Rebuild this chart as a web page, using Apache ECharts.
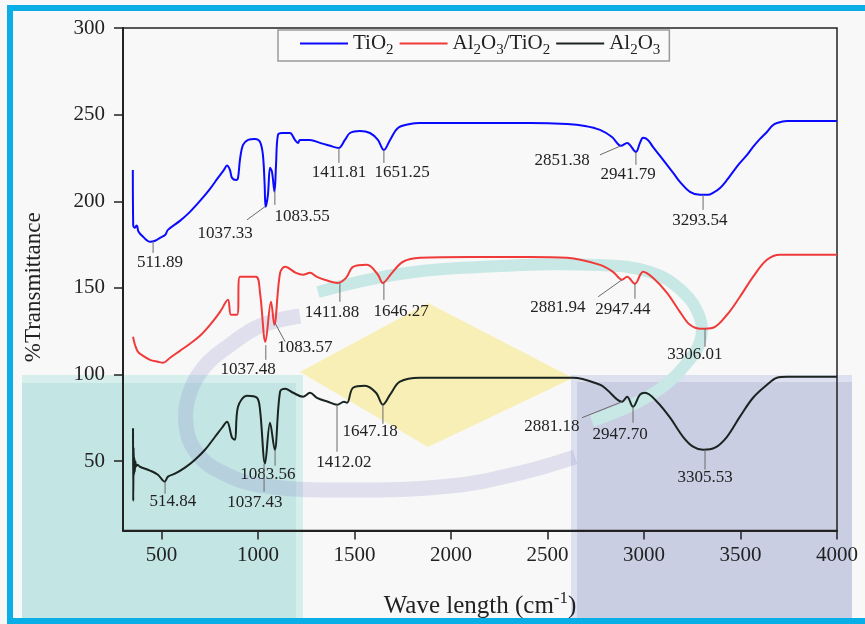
<!DOCTYPE html>
<html><head><meta charset="utf-8">
<script src="https://cdn.jsdelivr.net/npm/echarts/dist/echarts.min.js"></script>
<style>html,body{margin:0;padding:0;background:#f8f8f8}#c{width:865px;height:624px}</style>
</head><body><div id="c"></div><script>
const FONT = "'Liberation Serif','Times New Roman',serif";
const xTickValues = [500,1000,1500,2000,2500,3000,3500,4000];
const yTickValues = [50,100,150,200,250,300];
const seriesNames = ['TiO2','Al2O3/TiO2','Al2O3'];
const seriesColors = ['#0a0aff','#f03a3a','#1a2420'];

// [wavenumber, %T]
const tio2 = [[351,218],[353,186],[362,184.7],[370,186],[374,185.5],[380,182.6],[404,179.5],[440,176.6],[466,177.2],[492,178.9],[518,180.5],[533,183.5],[595,188.7],[647,193.9],[699,200.2],[751,207.2],[792,213.5],[823,218.1],[839,220.6],[854,218.1],[865,213.5],[886,212.3],[896,213.5],[906,223.9],[922,232.5],[948,235.4],[984,236],[1010,234.3],[1025,226.8],[1034,209.5],[1039,196.8],[1051,203.7],[1062,219.3],[1072,217],[1085,205.6],[1093,221],[1103,238.3],[1124,239.4],[1165,239.4],[1191,235.4],[1207,233.7],[1217,235.4],[1269,235.4],[1321,233.7],[1373,232],[1417,230.8],[1450,235.4],[1476,239.4],[1528,240.6],[1580,239.4],[1621,235.4],[1652,229.6],[1684,235.4],[1725,242.3],[1787,244.6],[1839,245.2],[2098,245.2],[2409,245.2],[2601,244.6],[2694,243.5],[2772,241.2],[2834,237.1],[2881,232],[2912,233.7],[2958,228.5],[2979,233.7],[2995,236.6],[3020,235.4],[3046,231.4],[3083,226.2],[3119,221],[3155,215.8],[3186,211.2],[3238,205.4],[3290,203.7],[3331,203.7],[3357,204.8],[3394,207.7],[3430,212.3],[3461,217],[3497,222.1],[3534,226.8],[3565,231.4],[3601,236],[3637,240],[3663,243.5],[3689,245.2],[3741,246.4],[4000,246.4]];

const al2o3TiO2 = [[352,121.8],[362,117.2],[378,113.1],[404,110.8],[440,108.5],[481,107.4],[507,106.8],[544,109.7],[595,113.7],[647,117.8],[699,122.4],[751,128.7],[803,136.2],[844,143.1],[860,134.5],[891,134.5],[906,156.4],[989,156.4],[1010,147.2],[1038,118.9],[1067,142],[1084,128.7],[1114,158.7],[1140,162.2],[1196,158.7],[1233,157.6],[1269,158.7],[1305,156.4],[1362,154.1],[1412,152.9],[1456,155.8],[1492,162.2],[1564,163.3],[1621,157.6],[1646,152.9],[1694,158.7],[1751,165.1],[1839,167.4],[2098,167.9],[2409,167.9],[2601,167.4],[2772,163.3],[2839,159.3],[2886,154.7],[2912,156.4],[2953,152.4],[2995,159.3],[3046,155.8],[3119,147.2],[3186,136.2],[3238,128.7],[3295,126.4],[3357,127],[3430,134.5],[3497,144.9],[3565,156.4],[3637,166.2],[3705,169.1],[4000,169.1]];

const al2o3 = [[352,69],[353,27],[355,58],[357,42],[359,52],[361,44],[364,50],[368,47],[374,48],[388,46.8],[440,44.6],[481,42.2],[516,38.2],[533,41.1],[569,42.8],[621,46.3],[673,50.9],[725,56.6],[777,64.1],[813,69.3],[839,72.8],[865,63.6],[880,62.4],[896,81.4],[943,87.8],[994,86.6],[1010,79.7],[1036,48.6],[1062,72.2],[1086,56.6],[1114,90.1],[1140,91.8],[1181,89.5],[1233,87.2],[1269,89.5],[1305,86.6],[1362,84.3],[1410,82.6],[1445,84.3],[1461,83.7],[1492,92.4],[1554,93.5],[1611,89.5],[1647,82.6],[1684,88.4],[1735,95.9],[1839,98.2],[2098,98.2],[2632,98.2],[2772,94.1],[2808,91.2],[2886,84.3],[2912,87.2],[2943,81.4],[2979,88.4],[3005,89.5],[3067,84.3],[3135,75.1],[3202,64.1],[3254,58.4],[3306,56.6],[3368,57.8],[3430,64.1],[3497,75.7],[3565,86.6],[3637,94.1],[3689,98.2],[3741,98.7],[4000,98.7]];

// peak annotations: [peak wn, peak %T, leader end wn, leader end %T, label wn, label %T, text]
const tio2Peaks = [
  [456,177,456,170.2,492,164.5,'511.89'],
  [1037,197,943,189.3,829,181.2,'1037.33'],
  [1087,206,1087,197.9,1228,191,'1083.55'],
  [1419,230.8,1419,222.1,1419,216.4,'1411.81'],
  [1652,229.6,1652,222.1,1746,216.4,'1651.25'],
  [2880,232,2772,226.8,2575,223.3,'2851.38'],
  [2958,228.5,2958,221,2917,215.2,'2941.79'],
  [3306,203.7,3306,195,3290,188.7,'3293.54']
];
const al2o3TiO2Peaks = [
  [1424,152.9,1424,142,1383,135.6,'1411.88'],
  [1652,152.9,1652,143.1,1741,136.2,'1646.27'],
  [1087,129.9,1140,118.9,1243,115.5,'1083.57'],
  [1040,117,1040,108.5,948,102.8,'1037.48'],
  [2886,154.7,2762,144.9,2554,138.5,'2881.94'],
  [2953,152.4,2953,143.7,2891,137.4,'2947.44'],
  [3316,126.4,3316,116,3264,111.4,'3306.01']
];
const al2o3Peaks = [
  [518,38.2,518,31.3,559,26.6,'514.84'],
  [1088,56.6,1088,47.4,1051,42.2,'1083.56'],
  [1031,48.6,1031,32.4,984,26,'1037.43'],
  [1409,82.6,1409,55.5,1445,49.1,'1412.02'],
  [1647,82.6,1647,71.6,1580,67,'1647.18'],
  [2886,84.3,2679,75.1,2523,69.9,'2881.18'],
  [2943,81.4,2943,72.2,2876,65.3,'2947.70'],
  [3316,56.6,3316,45.1,3316,40.5,'3305.53']
];

function richName(name){
  let s = '{t|' + name.replace(/(\d)/g, '}{s|$1}{t|') + '}';
  return s.replace(/\{t\|\}/g,'');
}
function annotationSeries(peaks){
  return {
    type:'custom', coordinateSystem:'cartesian2d', silent:true, z:4,
    data: peaks.map(p => p.slice(0,6)),
    encode:{x:[0,2,4], y:[1,3,5]},
    renderItem:function(params, api){
      const p = peaks[params.dataIndex];
      const a = api.coord([p[0],p[1]]), b = api.coord([p[2],p[3]]), c = api.coord([p[4],p[5]]);
      return {type:'group', children:[
        {type:'line', shape:{x1:a[0],y1:a[1],x2:b[0],y2:b[1]}, style:{stroke:'#6a6a6a', lineWidth:1}},
        {type:'text', style:{text:p[6], x:c[0], y:c[1], textAlign:'center', textVerticalAlign:'middle', font:'17px ' + FONT, fill:'#222'}}
      ]};
    }
  };
}

const deco = [
  {type:'rect', shape:{x:22,y:375,width:281,height:244}, style:{fill:'#d6eeec'}},
  {type:'rect', shape:{x:22,y:383,width:274,height:236}, style:{fill:'#c3e5e3'}},
  {type:'rect', shape:{x:571,y:375,width:281,height:244}, style:{fill:'#dde0ee'}},
  {type:'rect', shape:{x:577,y:382,width:275,height:237}, style:{fill:'#c9cee3'}},
  {type:'polygon', shape:{points:[[300,372],[428,303],[573,378],[428,447]]}, style:{fill:'#f8efb6'}},
  {type:'polyline', shape:{smooth:0.4, points:[[318,292],[400,274],[500,266],[600,265],[650,272],[683,292],[700,318],[700,342],[686,364],[664,386],[632,405],[592,421]]}, style:{stroke:'#c8e8e6', lineWidth:12, fill:null}},
  {type:'polyline', shape:{smooth:0.4, points:[[300,316],[260,326],[230,345],[205,366],[189,395],[186,425],[196,452],[221,472],[265,486],[350,490],[450,486],[520,473],[575,457]]}, style:{stroke:'rgba(150,150,210,0.26)', lineWidth:15, fill:null}},
  {type:'rect', shape:{x:7,y:5,width:6,height:619}, style:{fill:'#0aaee6'}},
  {type:'rect', shape:{x:7,y:5,width:858,height:6}, style:{fill:'#0aaee6'}},
  {type:'rect', shape:{x:7,y:618,width:858,height:6}, style:{fill:'#0aaee6'}}
].map(e => Object.assign(e, {z:-10, silent:true}));

const chart = echarts.init(document.getElementById('c'), null, {renderer:'canvas'});
const labelStyle = {fontFamily:FONT, fontSize:21, color:'#222', formatter: v => String(v)};
const lineCommon = {type:'line', showSymbol:false, smooth:0.35, z:3};
chart.setOption({
  animation:false,
  backgroundColor:'#f8f8f8',
  graphic: deco,
  grid:{left:123, right:28, top:28, bottom:93, show:true, borderColor:'#222', borderWidth:1.5, backgroundColor:'transparent'},
  legend:{
    data:seriesNames, left:278, top:30, icon:'rect', itemWidth:48, itemHeight:2, itemGap:6,
    padding:[3,9,3,22], borderColor:'#9a9a9a', borderWidth:1.5, backgroundColor:'rgba(255,255,255,0.3)',
    formatter: richName,
    textStyle:{rich:{
      t:{fontFamily:FONT, fontSize:21, color:'#222', lineHeight:24},
      s:{fontFamily:FONT, fontSize:15, color:'#222', padding:[14,0,0,0]}
    }}
  },
  xAxis:{
    type:'value', min:300, max:4000,
    name:'{t|Wave length (cm}{p|-1}{t|)}', nameLocation:'middle', nameGap:60,
    nameTextStyle:{rich:{
      t:{fontFamily:FONT, fontSize:25, color:'#222'},
      p:{fontFamily:FONT, fontSize:17, color:'#222', padding:[0,0,15,0]}
    }},
    splitLine:{show:false},
    axisLine:{lineStyle:{color:'#222', width:2}},
    axisTick:{customValues:xTickValues, length:9, lineStyle:{color:'#222', width:1.5}},
    axisLabel:Object.assign({customValues:xTickValues, margin:14}, labelStyle)
  },
  yAxis:{
    type:'value', min:10, max:300,
    name:'%Transmittance', nameLocation:'middle', nameGap:78,
    nameTextStyle:{fontFamily:FONT, fontSize:23, color:'#222', padding:[0,16,0,0]},
    splitLine:{show:false},
    axisLine:{lineStyle:{color:'#222', width:2}},
    axisTick:{customValues:yTickValues, length:9, lineStyle:{color:'#222', width:1.5}},
    axisLabel:Object.assign({customValues:yTickValues, margin:18}, labelStyle)
  },
  series:[
    Object.assign({name:seriesNames[0], data:tio2, lineStyle:{color:seriesColors[0], width:2}, itemStyle:{color:seriesColors[0]}}, lineCommon),
    Object.assign({name:seriesNames[1], data:al2o3TiO2, lineStyle:{color:seriesColors[1], width:2}, itemStyle:{color:seriesColors[1]}}, lineCommon),
    Object.assign({name:seriesNames[2], data:al2o3, lineStyle:{color:seriesColors[2], width:2}, itemStyle:{color:seriesColors[2]}}, lineCommon),
    annotationSeries(tio2Peaks),
    annotationSeries(al2o3TiO2Peaks),
    annotationSeries(al2o3Peaks)
  ]
});
</script></body></html>
